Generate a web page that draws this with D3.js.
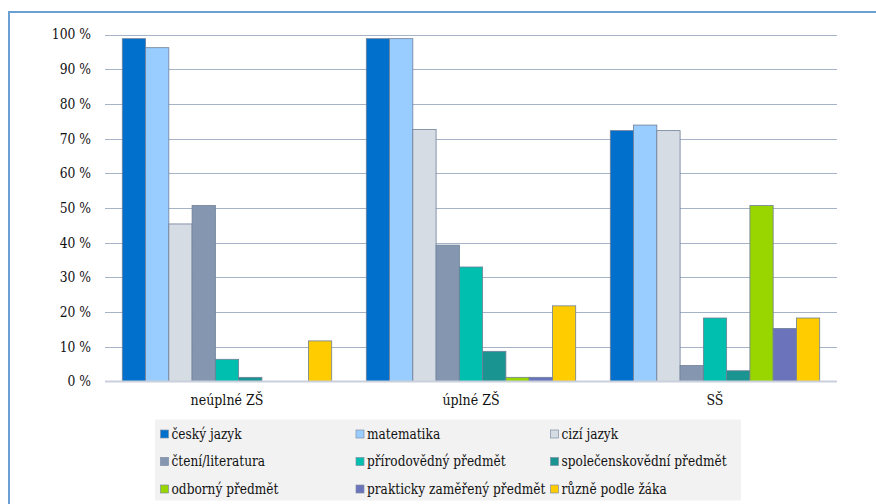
<!DOCTYPE html>
<html><head><meta charset="utf-8">
<script src="https://cdn.jsdelivr.net/npm/d3@7"></script>
<style>html,body{margin:0;padding:0;background:#fff;}svg{display:block;}</style>
</head><body>
<svg id="chart" width="876" height="504"></svg>
<script>
const categories = ["neúplné ZŠ", "úplné ZŠ", "SŠ"];
const seriesNames = ["český jazyk", "matematika", "cizí jazyk", "čtení/literatura", "přírodovědný předmět", "společenskovědní předmět", "odborný předmět", "prakticky zaměřený předmět", "různě podle žáka"];
const seriesColors = ["#0070cc", "#99ccff", "#d5dce4", "#8496b0", "#00bfae", "#1a9491", "#99d600", "#6b74bb", "#ffcc00"];
const valuesNeuplneZS = [98.8, 96.2, 45.4, 50.7, 6.4, 1.2, 0, 0, 11.7];
const valuesUplneZS = [98.8, 98.8, 72.6, 39.3, 33.0, 8.7, 1.2, 1.2, 21.8];
const valuesSS = [72.3, 73.9, 72.3, 4.6, 18.3, 3.1, 50.7, 15.3, 18.3];
const yTicks = [0, 10, 20, 30, 40, 50, 60, 70, 80, 90, 100];

(function () {
const values = [valuesNeuplneZS, valuesUplneZS, valuesSS];
const svg = d3.select("#chart");
const fontCss = "'DejaVu Serif', serif";

// narrow the wide serif to a Times-like width while keeping real text
function condense(sel, k) {
  sel.each(function () {
    const w = this.getComputedTextLength();
    d3.select(this).attr("textLength", w * k).attr("lengthAdjust", "spacingAndGlyphs");
  });
}

// frame
svg.append("line").attr("x1", 9).attr("x2", 876).attr("y1", 12).attr("y2", 12).attr("stroke", "#6a9fd2").attr("stroke-width", 2);
svg.append("line").attr("x1", 9).attr("x2", 9).attr("y1", 11).attr("y2", 504).attr("stroke", "#6a9fd2").attr("stroke-width", 2);

const pLeft = 105, pRight = 837, pTop = 34.5, pBottom = 381.5;
const y = d3.scaleLinear().domain([0, 100]).range([pBottom, pTop]);
const x0 = d3.scaleBand().domain(categories).range([pLeft, pRight]).paddingInner(0).paddingOuter(0);
const x1 = d3.scaleBand().domain(seriesNames).range([17.3, x0.bandwidth() - 17.3]).padding(0);

// gridlines
svg.append("g").selectAll("line").data(yTicks.filter(t => t > 0)).join("line")
  .attr("x1", pLeft).attr("x2", pRight)
  .attr("y1", d => Math.round(y(d)) + 0.5).attr("y2", d => Math.round(y(d)) + 0.5)
  .attr("stroke", "#a6b2c6").attr("stroke-width", 1);

// y labels
svg.append("g").selectAll("text").data(yTicks).join("text")
  .attr("x", 91).attr("y", d => y(d)).attr("dy", "0.35em")
  .attr("text-anchor", "end").style("font-family", fontCss).attr("font-size", 14).attr("fill", "#111")
  .text(d => d + " %").call(condense, 0.88);

// bars
const groups = svg.append("g").selectAll("g").data(categories).join("g")
  .attr("transform", d => `translate(${x0(d)},0)`);
groups.selectAll("rect").data((c, i) => seriesNames.map((s, j) => ({ s, v: values[i][j], color: seriesColors[j] })).filter(d => d.v > 0))
  .join("rect")
  .attr("x", d => x1(d.s)).attr("width", x1.bandwidth())
  .attr("y", d => y(d.v)).attr("height", d => y(0) - y(d.v))
  .attr("fill", d => d.color).attr("stroke", "#6f7f98").attr("stroke-width", 0.8);

// x axis baseline
svg.append("line").attr("x1", pLeft).attr("x2", pRight).attr("y1", y(0)).attr("y2", y(0))
  .attr("stroke", "#c9d0dc").attr("stroke-width", 2);

// category labels
svg.append("g").selectAll("text").data(categories).join("text")
  .attr("x", d => x0(d) + x0.bandwidth() / 2).attr("y", 400).attr("dy", "0.35em")
  .attr("text-anchor", "middle").style("font-family", fontCss).attr("font-size", 14.5).attr("fill", "#111")
  .text(d => d).call(condense, 0.87);

// legend
svg.append("rect").attr("x", 155).attr("y", 419.5).attr("width", 586).attr("height", 81).attr("fill", "#f2f2f2");
const colX = [160.5, 356, 550.5];
const rowY = [434, 461.5, 489];
const leg = svg.append("g").selectAll("g").data(seriesNames).join("g")
  .attr("transform", (d, i) => `translate(${colX[i % 3]},${rowY[Math.floor(i / 3)]})`);
leg.append("rect").attr("x", 0).attr("y", -4).attr("width", 8).attr("height", 8)
  .attr("fill", (d, i) => seriesColors[i]).attr("stroke", "#7f8fa6").attr("stroke-width", 0.7);
leg.append("text").attr("x", 11).attr("y", 0).attr("dy", "0.35em")
  .style("font-family", fontCss).attr("font-size", 14).attr("fill", "#111").text(d => d)
  .call(condense, 0.87);
})();
</script>
</body></html>
